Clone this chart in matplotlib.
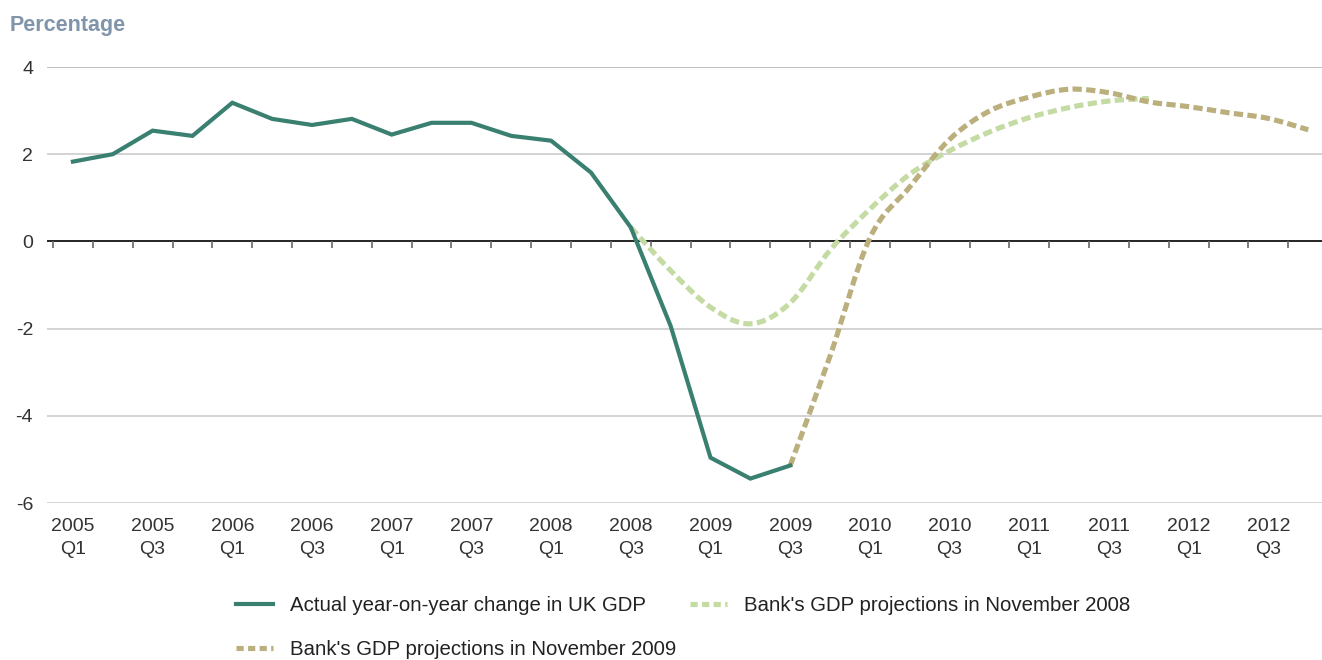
import numpy as np
import matplotlib.pyplot as plt
from matplotlib.path import Path
from matplotlib.patches import PathPatch
from matplotlib.lines import Line2D

# Quarterly tick labels (every second quarter, 2005 Q1 .. 2012 Q3)
tick_labels = ["2005\nQ1", "2005\nQ3", "2006\nQ1", "2006\nQ3", "2007\nQ1", "2007\nQ3",
               "2008\nQ1", "2008\nQ3", "2009\nQ1", "2009\nQ3", "2010\nQ1", "2010\nQ3",
               "2011\nQ1", "2011\nQ3", "2012\nQ1", "2012\nQ3"]

# Actual year-on-year change in UK GDP, 2005 Q1 .. 2009 Q3
actual = [1.83, 2.00, 2.54, 2.42, 3.18, 2.81, 2.67, 2.81, 2.45, 2.72,
          2.72, 2.42, 2.31, 1.58, 0.32, -1.94, -4.96, -5.44, -5.14]
actual_start = 0

# Bank's projections, November 2008 (from 2008 Q3 .. 2011 Q4)
nov2008 = [0.32, -0.67, -1.51, -1.89, -1.41, -0.20, 0.74, 1.54, 2.08,
           2.51, 2.84, 3.07, 3.22, 3.28]
nov2008_start = 14

# Bank's projections, November 2009 (from 2009 Q3 .. 2012 Q4)
nov2009 = [-5.14, -2.63, 0.08, 1.25, 2.34, 2.99, 3.31, 3.49, 3.41,
           3.20, 3.09, 2.95, 2.82, 2.56]
nov2009_start = 18

n_quarters = 32

teal = "#3a8070"
light_green = "#c4dba3"
tan = "#baaf7d"
dash = (0, (1.8, 0.85))


def smooth_path(xs, ys):
    # smooth curve through the points (Catmull-Rom as cubic Bezier segments)
    pts = np.column_stack([xs, ys]).astype(float)
    ext = np.vstack([pts[0], pts, pts[-1]])
    verts = [pts[0]]
    codes = [Path.MOVETO]
    for i in range(len(pts) - 1):
        p0, p1, p2, p3 = ext[i], ext[i + 1], ext[i + 2], ext[i + 3]
        verts += [p1 + (p2 - p0) / 6, p2 - (p3 - p1) / 6, p2]
        codes += [Path.CURVE4] * 3
    return Path(verts, codes)


plt.rcParams['font.family'] = ['Liberation Sans', 'DejaVu Sans']

fig = plt.figure(figsize=(13.22, 6.6), dpi=100)
ax = fig.add_axes([47 / 1322, 1 - 503 / 660, 1 - 47 / 1322, (503 - 67) / 660])

# gridlines
for v in [2, -2, -4, -6]:
    ax.axhline(v, color="#d3d3d3", lw=1.4, zorder=1)
ax.axhline(4, color="#b4b4b4", lw=1.2, zorder=1)
ax.axhline(0, color="black", lw=1.2, zorder=2)

# category boundary ticks on the zero line
bounds = np.arange(n_quarters) - 0.5
ax.vlines(bounds, -0.14, 0, color="#666666", lw=1.2, zorder=2)

x08 = np.arange(nov2008_start, nov2008_start + len(nov2008))
x09 = np.arange(nov2009_start, nov2009_start + len(nov2009))
xa = np.arange(actual_start, actual_start + len(actual))

ax.add_patch(PathPatch(smooth_path(x08, nov2008), fill=False, edgecolor=light_green,
                       lw=3.7, linestyle=dash, capstyle="butt", zorder=3))
ax.add_patch(PathPatch(smooth_path(x09, nov2009), fill=False, edgecolor=tan,
                       lw=3.7, linestyle=dash, capstyle="butt", zorder=4))
ax.plot(xa, actual, color=teal, lw=3.0, solid_joinstyle="miter", zorder=5)

ax.set_xlim(-0.65, -0.5 + (1322 - 53) / 39.85)
ax.set_ylim(-6, 4)
ax.set_yticks([4, 2, 0, -2, -4, -6])
ax.set_yticklabels(["4", "2", "0", "-2", "-4", "-6"])
ax.set_xticks(np.arange(0, n_quarters, 2))
ax.set_xticklabels(tick_labels, linespacing=1.45)
ax.tick_params(axis="both", length=0, labelsize=14, labelcolor="#333333")
ax.tick_params(axis="y", pad=10)
ax.tick_params(axis="x", pad=11)
for s in ax.spines.values():
    s.set_visible(False)

fig.text(10 / 1322, 1 - 26 / 660, "Percentage", fontsize=15.5, fontweight="bold",
         color="#8094aa", va="center", ha="left")

h_actual = Line2D([], [], color=teal, lw=3.0, label="Actual year-on-year change in UK GDP")
h_08 = Line2D([], [], color=light_green, lw=3.7, linestyle=(0, (1.4, 0.85)),
              dash_capstyle="butt", label="Bank's GDP projections in November 2008")
h_09 = Line2D([], [], color=tan, lw=3.7, linestyle=(0, (1.4, 0.85)),
              dash_capstyle="butt", label="Bank's GDP projections in November 2009")

fig.legend(handles=[h_actual, h_09, h_08], loc="upper left",
           bbox_to_anchor=(236 / 1322, 1 - 596 / 660), ncol=2, frameon=False,
           fontsize=14.7, handlelength=1.8, handletextpad=0.83, columnspacing=0.7,
           labelspacing=1.22, borderpad=0, borderaxespad=0, labelcolor="#222222")

fig.savefig("out.png", dpi=100)
